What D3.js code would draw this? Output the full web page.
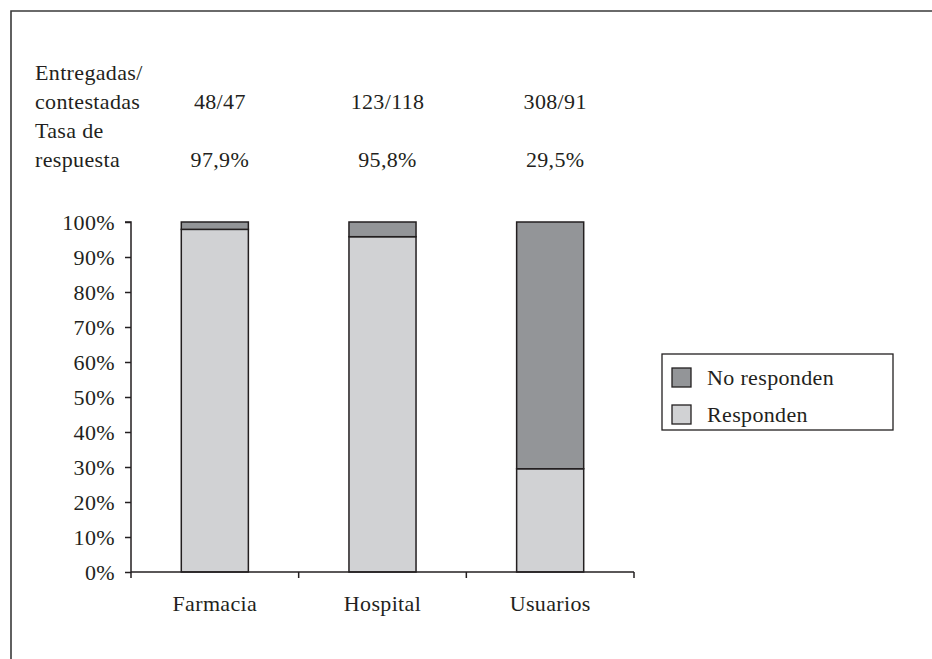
<!DOCTYPE html>
<html>
<head>
<meta charset="utf-8">
<script src="https://cdn.jsdelivr.net/npm/d3@7/dist/d3.min.js"></script>
<style>
  html, body { margin: 0; padding: 0; background: #fff; }
  svg { display: block; }
</style>
</head>
<body>
<script>
// Survey response rates by group
const categories = ["Farmacia", "Hospital", "Usuarios"];
const responden = [97.9, 95.8, 29.5];          // % that answered
const noResponden = [2.1, 4.2, 70.5];          // % that did not answer
const entregadas = ["48/47", "123/118", "308/91"];
const tasas = ["97,9%", "95,8%", "29,5%"];
const yTicks = [0, 10, 20, 30, 40, 50, 60, 70, 80, 90, 100];
const seriesNames = ["No responden", "Responden"];

const W = 932, H = 659;
const FONT = '"Liberation Serif", "Times New Roman", "DejaVu Serif", serif';
const FS = 22;
const LS = "0.35px";
const colors = { "Responden": "#d1d2d4", "No responden": "#939598" };
const ink = "#231f20";

const svg = d3.select("body").append("svg").attr("width", W).attr("height", H)
  .attr("font-family", FONT).style("letter-spacing", LS);

// outer frame (top and left edges)
svg.append("path")
  .attr("d", `M11,${H} L11,11 L${W},11`)
  .attr("fill", "none").attr("stroke", "#3a3a3a").attr("stroke-width", 1.6);

const plot = { left: 131, right: 634, top: 222, bottom: 572 };

const x = d3.scaleBand().domain(categories)
  .range([plot.left, plot.right]).paddingInner(0.6).paddingOuter(0.3);
const y = d3.scaleLinear().domain([0, 100]).range([plot.bottom, plot.top]);

// stacked data
const rows = categories.map((c, i) => ({ cat: c, "Responden": responden[i], "No responden": noResponden[i] }));
const stack = d3.stack().keys(["Responden", "No responden"])(rows);

const g = svg.append("g");
stack.forEach(layer => {
  g.selectAll(null).data(layer).enter().append("rect")
    .attr("x", d => x(d.data.cat))
    .attr("y", d => y(d[1]))
    .attr("width", x.bandwidth())
    .attr("height", d => y(d[0]) - y(d[1]))
    .attr("fill", colors[layer.key])
    .attr("stroke", ink).attr("stroke-width", 1.5);
});

// y axis
const yAxis = svg.append("g").attr("transform", `translate(${plot.left},0)`)
  .call(d3.axisLeft(y).tickValues(yTicks).tickFormat(d => d + "%").tickSize(6).tickPadding(10));
yAxis.attr("font-family", FONT).attr("font-size", FS);
yAxis.select(".domain").attr("stroke", ink).attr("stroke-width", 1.5).attr("d", `M-6,${plot.top}H0V${plot.bottom}`);
yAxis.selectAll(".tick line").attr("stroke", ink).attr("stroke-width", 1.5);
yAxis.selectAll(".tick text").attr("fill", ink);

// x axis with boundary ticks between categories
const xAxisG = svg.append("g").attr("transform", `translate(0,${plot.bottom})`);
xAxisG.append("line").attr("x1", plot.left).attr("x2", plot.right)
  .attr("stroke", ink).attr("stroke-width", 1.5);
const step = x.step();
const bounds = d3.range(categories.length + 1).map(i => plot.left + i * step);
xAxisG.selectAll(".bt").data(bounds).enter().append("line")
  .attr("x1", d => d).attr("x2", d => d).attr("y1", 0).attr("y2", 6)
  .attr("stroke", ink).attr("stroke-width", 1.5);
xAxisG.selectAll(".xl").data(categories).enter().append("text")
  .attr("x", d => x(d) + x.bandwidth() / 2)
  .attr("y", 39)
  .attr("text-anchor", "middle").attr("font-size", FS).attr("fill", ink)
  .text(d => d);

// header rows
const hdr = svg.append("g").attr("font-size", FS).attr("fill", ink);
[["Entregadas/", 80], ["contestadas", 109], ["Tasa de", 138], ["respuesta", 167]].forEach(([t, yy]) => {
  hdr.append("text").attr("x", 35).attr("y", yy).text(t);
});
hdr.selectAll(".ent").data(entregadas).enter().append("text")
  .attr("x", (d, i) => x(categories[i]) + x.bandwidth() / 2 + 5)
  .attr("y", 109).attr("text-anchor", "middle").text(d => d);
hdr.selectAll(".tas").data(tasas).enter().append("text")
  .attr("x", (d, i) => x(categories[i]) + x.bandwidth() / 2 + 5)
  .attr("y", 167).attr("text-anchor", "middle").text(d => d);

// legend
const lg = svg.append("g").attr("transform", "translate(662,354)")
  .attr("font-size", FS).attr("fill", ink);
lg.append("rect").attr("width", 231).attr("height", 76)
  .attr("fill", "#fff").attr("stroke", ink).attr("stroke-width", 1.3);
seriesNames.forEach((name, i) => {
  const row = lg.append("g").attr("transform", `translate(10,${14 + i * 37})`);
  row.append("rect").attr("width", 19).attr("height", 19)
    .attr("fill", colors[name]).attr("stroke", ink).attr("stroke-width", 1.3);
  row.append("text").attr("x", 35).attr("y", 17).text(name);
});
</script>
</body>
</html>
